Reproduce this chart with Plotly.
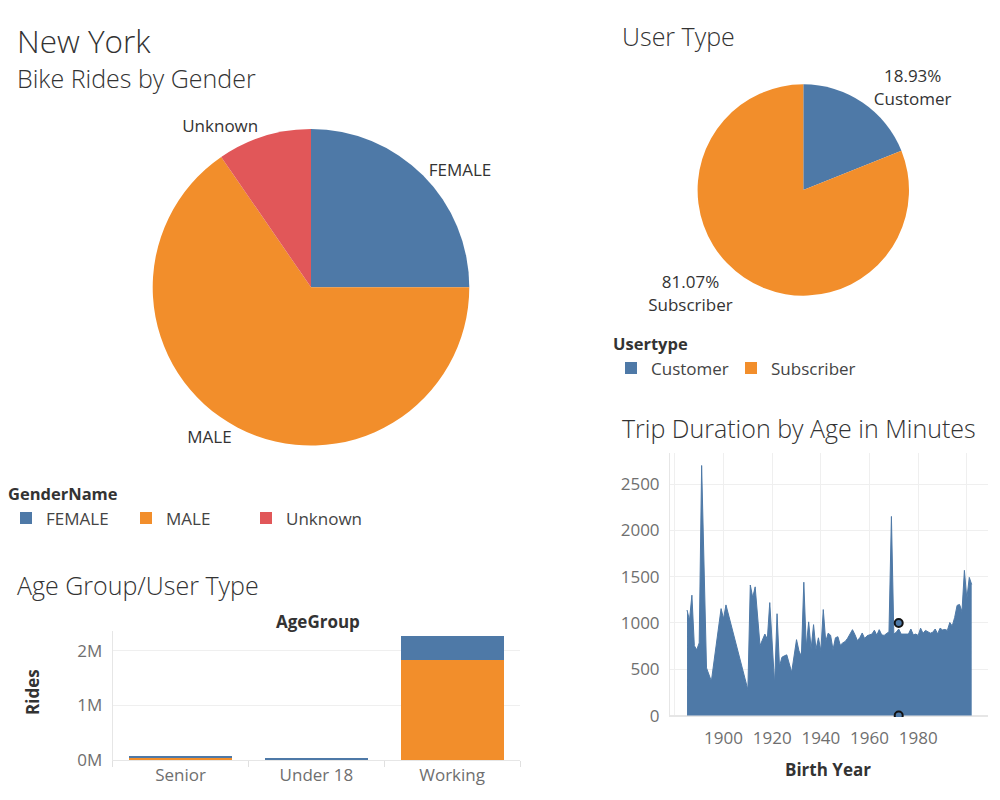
import plotly.graph_objects as go

# ---------------- data ----------------
gender_labels = ["FEMALE", "MALE", "Unknown"]
gender_share = [25.0, 65.4, 9.6]

usertype_labels = ["Customer", "Subscriber"]
usertype_share = [18.93, 81.07]

age_groups = ["Senior", "Under 18", "Working"]
rides_subscriber = [45000, 10000, 1840000]
rides_customer = [21000, 20000, 436000]

birth_years = [1885, 1886, 1887, 1888, 1889, 1890, 1891, 1893, 1895, 1899, 1900, 1901,
               1910, 1911, 1912, 1913, 1915, 1917, 1918, 1919, 1921, 1922, 1923, 1924,
               1925, 1926, 1928, 1930, 1931, 1932, 1933, 1934, 1935, 1936, 1937, 1938,
               1939, 1940, 1941, 1942, 1943, 1944, 1945, 1946, 1947, 1948, 1949, 1950,
               1951, 1952, 1953, 1954, 1955, 1956, 1957, 1958, 1959, 1960, 1961, 1962,
               1963, 1964, 1965, 1966, 1967, 1968, 1969, 1970, 1971, 1972, 1973, 1974,
               1975, 1976, 1977, 1978, 1979, 1980, 1981, 1982, 1983, 1984, 1985, 1986,
               1987, 1988, 1989, 1990, 1991, 1992, 1993, 1994, 1995, 1996, 1997, 1998,
               1999, 2000, 2001, 2002]
trip_minutes = [1140, 1030, 1300, 755, 710, 785, 2700, 515, 372, 1155, 1045, 1195,
                280, 1410, 1275, 1390, 755, 880, 825, 1220, 340, 1100, 530, 630,
                645, 656, 468, 820, 700, 640, 1440, 740, 1012, 720, 982, 715,
                840, 700, 1145, 800, 890, 868, 712, 840, 852, 760, 785, 800,
                835, 880, 928, 875, 810, 840, 892, 832, 862, 872, 880, 922,
                868, 928, 872, 866, 890, 905, 2150, 880, 900, 935, 880, 878,
                875, 880, 935, 872, 880, 866, 944, 888, 920, 905, 890, 900,
                935, 882, 944, 925, 930, 920, 1005, 968, 1060, 1190, 1200, 1125,
                1568, 1260, 1492, 1415]

highlight_year = [1972, 1972]
highlight_minutes = [1000, 0]

BLUE = "#4e79a7"
ORANGE = "#f28e2b"
RED = "#e15759"
TXT = "#333333"
TICK = "#6f6f6f"
GRID = "#efefef"
FONT = "Open Sans"

W, H = 1000, 800
def px(x):
    return x / W
def py(y):
    return 1 - y / H

fig = go.Figure()

# Gender pie
fig.add_trace(go.Pie(
    labels=gender_labels, values=gender_share, sort=False, direction="clockwise",
    rotation=0, marker=dict(colors=[BLUE, ORANGE, RED]),
    textposition="outside", textinfo="label",
    textfont=dict(size=17, color=TXT, family=FONT),
    domain=dict(x=[px(152.7), px(469.3)], y=[py(445.6), py(129.0)]),
    legend="legend", hoverinfo="label+percent", automargin=False,
))

# User type pie
fig.add_trace(go.Pie(
    labels=usertype_labels, values=usertype_share, sort=False, direction="clockwise",
    rotation=0, marker=dict(colors=[BLUE, ORANGE]),
    textposition="outside", texttemplate="%{percent:.2%}<br>%{label}",
    textfont=dict(size=17, color=TXT, family=FONT),
    domain=dict(x=[px(697.6), px(909.0)], y=[py(295.7), py(84.3)]),
    showlegend=False, hoverinfo="label+percent", automargin=False,
))

# Age group stacked bars (also provide the Usertype legend)
fig.add_trace(go.Bar(
    x=age_groups, y=rides_subscriber, name="Subscriber", marker_color=ORANGE,
    marker_line_width=0, width=0.76, xaxis="x", yaxis="y",
    legend="legend2", legendrank=2, legendwidth=110,
))
fig.add_trace(go.Bar(
    x=age_groups, y=rides_customer, name="Customer", marker_color=BLUE,
    marker_line_width=0, width=0.76, xaxis="x", yaxis="y",
    legend="legend2", legendrank=1, legendwidth=75,
))

# Trip duration area
fig.add_trace(go.Scatter(
    x=birth_years, y=trip_minutes, mode="lines", fill="tozeroy",
    line=dict(color=BLUE, width=1), fillcolor=BLUE, showlegend=False,
    xaxis="x2", yaxis="y2",
))
fig.add_trace(go.Scatter(
    x=highlight_year, y=highlight_minutes, mode="markers",
    marker=dict(size=8, color=BLUE, line=dict(color="#111111", width=2)),
    showlegend=False, xaxis="x2", yaxis="y2", cliponaxis=True,
))

tickfont = dict(size=17, color=TICK, family=FONT)

fig.update_layout(
    width=W, height=H, margin=dict(l=0, r=0, t=0, b=0, autoexpand=False),
    paper_bgcolor="white", plot_bgcolor="white",
    font=dict(family=FONT, color=TXT),
    barmode="stack",
    xaxis=dict(domain=[px(112.7), px(520)], type="category", tickfont=tickfont,
               showgrid=False, ticks="outside", tickson="boundaries", ticklen=6,
               tickcolor="#e0e0e0", showline=True, linecolor="#e6e6e6",
               anchor="y", automargin=False),
    yaxis=dict(domain=[py(760), py(630.7)], range=[-5000, 2.37e6],
               tickvals=[0, 1e6, 2e6], ticktext=["0M", "1M", "2M"],
               tickfont=tickfont, gridcolor=GRID, zeroline=False,
               showline=True, linecolor="#e6e6e6", ticklabelstandoff=6,
               anchor="x", automargin=False),
    xaxis2=dict(domain=[px(670), px(988)], range=[1878, 2008.7],
                tickvals=[1880, 1900, 1920, 1940, 1960, 1980, 2000],
                ticktext=["", "1900", "1920", "1940", "1960", "1980", ""],
                tickfont=tickfont, gridcolor=GRID, zeroline=False,
                showline=False, anchor="y2", automargin=False,
                ticklabelstandoff=9),
    yaxis2=dict(domain=[py(717), py(453)], range=[-15, 2835],
                tickvals=[0, 500, 1000, 1500, 2000, 2500],
                tickfont=tickfont, gridcolor=GRID, zeroline=True,
                zerolinecolor="#e6e6e6", showline=True, linecolor="#e6e6e6",
                ticklabelstandoff=6, anchor="x2", automargin=False),
    legend=dict(x=px(6), y=py(479), xanchor="left", yanchor="top",
                orientation="h", entrywidth=75, entrywidthmode="pixels",
                traceorder="normal",
                title=dict(text="<b>GenderName</b>", side="top",
                           font=dict(size=16.5, color=TXT, family=FONT)),
                font=dict(size=17, color="#444", family=FONT),
                bgcolor="rgba(0,0,0,0)"),
    legend2=dict(x=px(611), y=py(329), xanchor="left", yanchor="top",
                 orientation="h", entrywidthmode="pixels",
                 traceorder="normal",
                 title=dict(text="<b>Usertype</b>", side="top",
                            font=dict(size=16.5, color=TXT, family=FONT)),
                 font=dict(size=17, color="#444", family=FONT),
                 bgcolor="rgba(0,0,0,0)"),
)

def title(text, x, y, size, bold=False, anchor="left", angle=0):
    fig.add_annotation(
        text=f"<b>{text}</b>" if bold else text, x=px(x), y=py(y),
        xref="paper", yref="paper", xanchor=anchor, yanchor="middle",
        showarrow=False, textangle=angle,
        font=dict(size=size, color=TXT, family=FONT, weight=300 if not bold else 700),
    )

title("New York", 15, 40, 31.5)
title("Bike Rides by Gender", 15, 78, 25)
title("User Type", 620, 36, 25)
title("Trip Duration by Age in Minutes", 620, 428, 25)
title("Age Group/User Type", 15, 585, 25)
title("AgeGroup", 318, 621, 17, bold=True, anchor="center")
title("Rides", 32, 692, 17, bold=True, anchor="center", angle=-90)
title("Birth Year", 828, 769, 17, bold=True, anchor="center")

fig.write_html("out.html")
